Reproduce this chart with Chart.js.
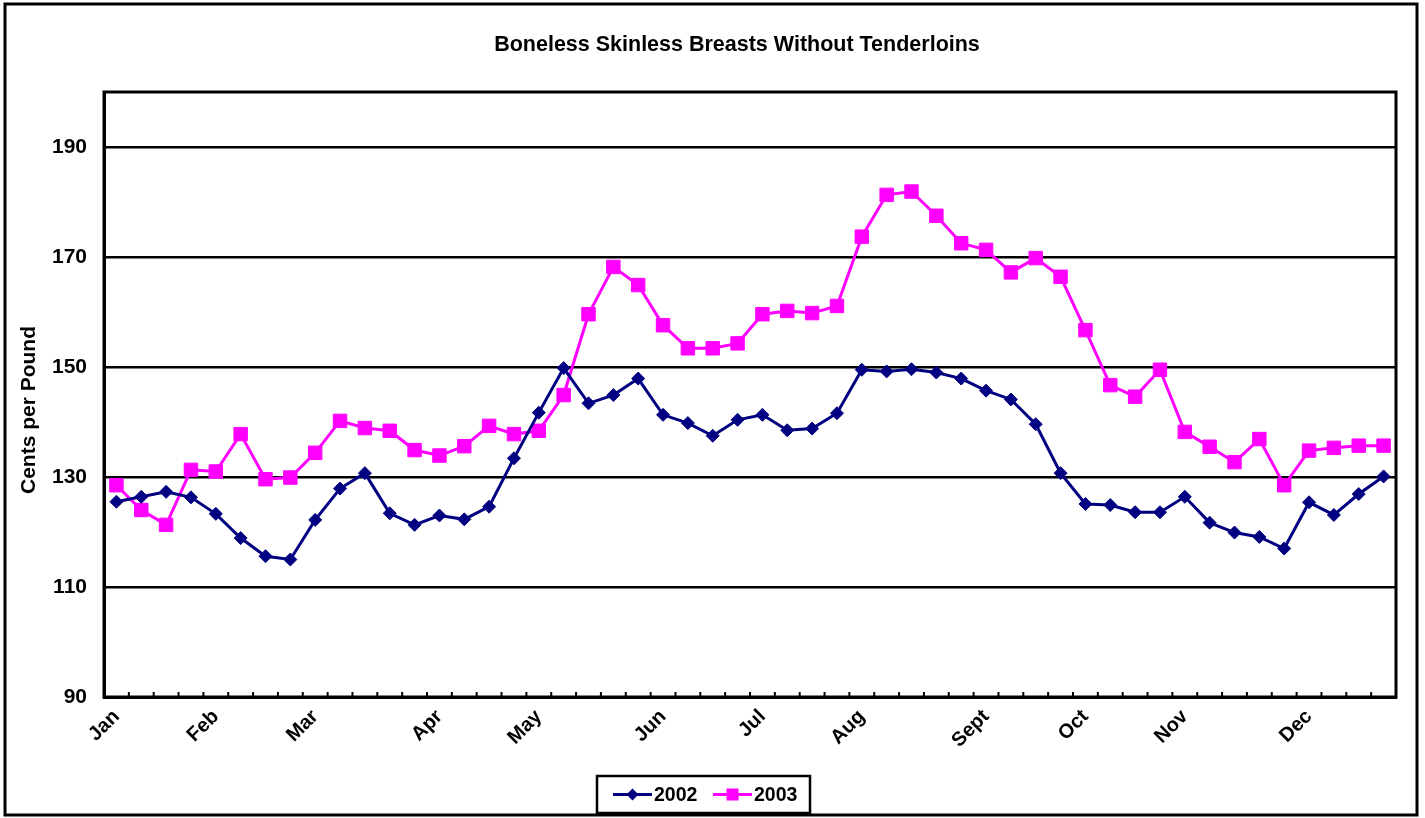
<!DOCTYPE html>
<html>
<head>
<meta charset="utf-8">
<title>Boneless Skinless Breasts Without Tenderloins</title>
<script src="https://cdn.jsdelivr.net/npm/chart.js@4.4.1/dist/chart.umd.min.js"></script>
<style>
    html, body { margin: 0; padding: 0; background: #fff; }
    #wrap { position: relative; width: 1425px; height: 818px; overflow: hidden; }
    #chartTitle {
        position: absolute; top: 32px; left: 237px; width: 1000px;
        text-align: center; font: bold 21.5px "Liberation Sans", Arial, sans-serif; color: #000;
    }
</style>
</head>
<body>
<div id="wrap">
    <canvas id="chart" width="1425" height="818"></canvas>
    <div id="chartTitle">Boneless Skinless Breasts Without Tenderloins</div>
</div>
<script>
/* ── Data (weekly prices, cents per pound) ───────────────────── */
const weekLabels = [
    "Jan", "", "", "",
    "Feb", "", "", "",
    "Mar", "", "", "", "",
    "Apr", "", "", "",
    "May", "", "", "", "",
    "Jun", "", "", "",
    "Jul", "", "", "",
    "Aug", "", "", "", "",
    "Sept", "", "", "",
    "Oct", "", "", "",
    "Nov", "", "", "", "",
    "Dec", "", "", ""
];

const seriesNames = ["2002", "2003"];

const prices2002 = [
    125.5, 126.4, 127.3, 126.3, 123.3, 118.9, 115.6, 115.0, 122.2, 127.9,
    130.7, 123.4, 121.3, 123.0, 122.3, 124.6, 133.4, 141.7, 149.8, 143.4,
    144.9, 147.9, 141.3, 139.8, 137.5, 140.4, 141.3, 138.5, 138.8, 141.6,
    149.5, 149.2, 149.6, 149.0, 147.9, 145.7, 144.1, 139.6, 130.7, 125.1,
    124.9, 123.6, 123.6, 126.4, 121.7, 119.9, 119.1, 117.0, 125.4, 123.1,
    126.9, 130.1
];

const prices2003 = [
    128.5, 124.0, 121.3, 131.3, 131.0, 137.8, 129.6, 129.9, 134.4, 140.2,
    138.9, 138.4, 134.9, 133.9, 135.6, 139.3, 137.8, 138.4, 144.9, 159.6,
    168.2, 164.9, 157.6, 153.4, 153.4, 154.3, 159.6, 160.2, 159.8, 161.1,
    173.7, 181.3, 181.9, 177.5, 172.5, 171.3, 167.2, 169.8, 166.4, 156.7,
    146.7, 144.6, 149.5, 138.2, 135.5, 132.7, 136.9, 128.5, 134.8, 135.3,
    135.7, 135.7
];

const yMin = 90;
const yMax = 200;
const yTicks = [90, 110, 130, 150, 170, 190];
const yTitle = "Cents per Pound";

const NAVY = "#000080";
const MAGENTA = "#FF00FF";
const FONT = "'Liberation Sans', Arial, sans-serif";

// ── Frame, inner ticks, axis title, legend box ───────────────
const framePlugin = {
    id: "frame",
    beforeDatasetsDraw(chart) {
        const { ctx, chartArea: a } = chart;
        const xs = chart.scales.x;
        ctx.save();
        ctx.strokeStyle = "#000";
        ctx.lineWidth = 3;
        ctx.strokeRect(a.left, a.top, a.right - a.left, a.bottom - a.top);

        // small tick marks pointing into the plot, at week boundaries
        const step = xs.getPixelForValue(1) - xs.getPixelForValue(0);
        ctx.lineWidth = 2;
        ctx.beginPath();
        for (let i = 0; i <= weekLabels.length; i++) {
            const x = xs.getPixelForValue(i) - step / 2;
            ctx.moveTo(x, a.bottom);
            ctx.lineTo(x, a.bottom - 5);
        }
        ctx.stroke();

        // y axis title (sits a bit below the axis centre, as in the original)
        ctx.translate(29, 410);
        ctx.rotate(-Math.PI / 2);
        ctx.fillStyle = "#000";
        ctx.font = `bold 21px ${FONT}`;
        ctx.textAlign = "center";
        ctx.textBaseline = "middle";
        ctx.fillText(yTitle, 0, 0);
        ctx.restore();
    },
    afterDraw(chart) {
        const { ctx } = chart;
        ctx.save();
        // outer border
        ctx.strokeStyle = "#000";
        ctx.lineWidth = 3;
        ctx.strokeRect(5, 4, 1412, 811);

        // legend
        const box = { x: 597, y: 776, w: 213, h: 37 };
        ctx.fillStyle = "#fff";
        ctx.fillRect(box.x, box.y, box.w, box.h);
        ctx.lineWidth = 2.5;
        ctx.strokeRect(box.x, box.y, box.w, box.h);

        const cy = box.y + box.h / 2;
        const items = [
            { x: 613, ds: chart.data.datasets[0] },
            { x: 713, ds: chart.data.datasets[1] }
        ];
        items.forEach(({ x, ds }) => {
            ctx.strokeStyle = ds.borderColor;
            ctx.lineWidth = 3;
            ctx.beginPath();
            ctx.moveTo(x, cy);
            ctx.lineTo(x + 39, cy);
            ctx.stroke();
            ctx.fillStyle = ds.backgroundColor;
            const mx = x + 19.5;
            if (ds.pointStyle === "rectRot") {
                ctx.beginPath();
                ctx.moveTo(mx, cy - 6);
                ctx.lineTo(mx + 6, cy);
                ctx.lineTo(mx, cy + 6);
                ctx.lineTo(mx - 6, cy);
                ctx.closePath();
                ctx.fill();
            } else {
                ctx.fillRect(mx - 6, cy - 6, 12, 12);
            }
            ctx.fillStyle = "#000";
            ctx.font = `bold 19.5px ${FONT}`;
            ctx.textBaseline = "middle";
            ctx.textAlign = "left";
            ctx.fillText(ds.label, x + 41, cy + 1);
        });
        ctx.restore();
    }
};

// ── Chart ─────────────────────────────────────────────────────
const ctx = document.getElementById("chart").getContext("2d");
new Chart(ctx, {
    type: "line",
    data: {
        labels: weekLabels,
        datasets: [
            {
                label: seriesNames[0],
                data: prices2002,
                borderColor: NAVY,
                backgroundColor: NAVY,
                borderWidth: 3,
                pointStyle: "rectRot",
                pointRadius: 6.5,
                pointBorderWidth: 1,
                tension: 0
            },
            {
                label: seriesNames[1],
                data: prices2003,
                borderColor: MAGENTA,
                backgroundColor: MAGENTA,
                borderWidth: 3,
                pointStyle: "rect",
                pointRadius: 9.5,
                pointBorderWidth: 1,
                tension: 0
            }
        ]
    },
    options: {
        responsive: false,
        animation: false,
        layout: { padding: { left: 0, right: 29, top: 92, bottom: 0 } },
        plugins: {
            legend: { display: false },
            tooltip: { enabled: false }
        },
        scales: {
            x: {
                type: "category",
                offset: true,
                grid: { display: false },
                border: { display: true, color: "#000", width: 3 },
                ticks: {
                    autoSkip: false,
                    minRotation: 45,
                    maxRotation: 45,
                    padding: 0,
                    color: "#000",
                    font: { family: FONT, size: 20, weight: "bold" }
                },
                afterFit: scale => { scale.height = 121; }
            },
            y: {
                min: yMin,
                max: yMax,
                grid: { color: "#000", lineWidth: 2.5, drawTicks: false },
                border: { display: true, color: "#000", width: 3 },
                ticks: {
                    padding: 17,
                    color: "#000",
                    font: { family: FONT, size: 21, weight: "bold" }
                },
                afterBuildTicks: scale => {
                    scale.ticks = yTicks.map(v => ({ value: v }));
                },
                afterFit: scale => { scale.width = 104; }
            }
        }
    },
    plugins: [framePlugin]
});
</script>
</body>
</html>
